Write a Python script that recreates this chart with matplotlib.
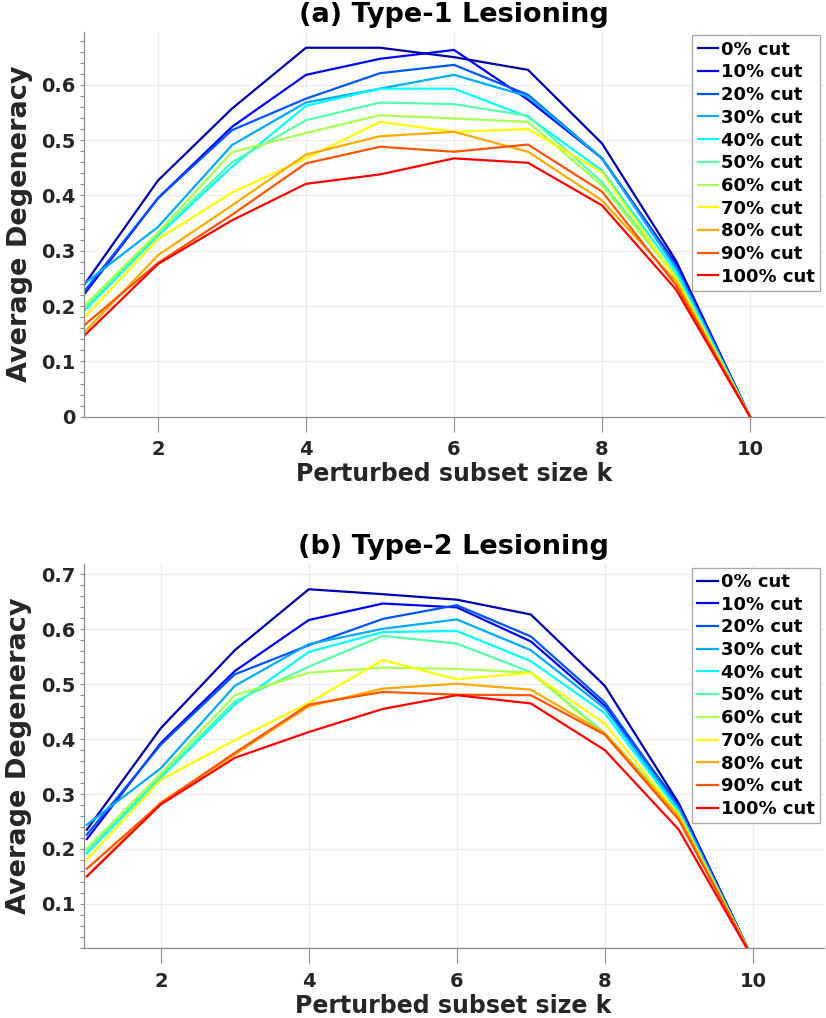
import numpy as np
import matplotlib
matplotlib.use('Agg')
import matplotlib.pyplot as plt
from matplotlib.ticker import MultipleLocator, FixedLocator

# =======  DATA  ======= #
k = np.arange(1, 11)
cut_labels = ['0% cut', '10% cut', '20% cut', '30% cut', '40% cut', '50% cut',
              '60% cut', '70% cut', '80% cut', '90% cut', '100% cut']

# (a) Type-1 lesioning, one row per cut level
type1 = [
    [0.238, 0.427, 0.557, 0.667, 0.667, 0.650, 0.627, 0.494, 0.282, 0.0],
    [0.221, 0.395, 0.524, 0.618, 0.647, 0.663, 0.573, 0.467, 0.276, 0.0],
    [0.226, 0.395, 0.518, 0.575, 0.621, 0.636, 0.582, 0.467, 0.272, 0.0],
    [0.240, 0.343, 0.491, 0.568, 0.593, 0.618, 0.579, 0.467, 0.268, 0.0],
    [0.191, 0.327, 0.452, 0.562, 0.593, 0.593, 0.542, 0.445, 0.262, 0.0],
    [0.195, 0.330, 0.460, 0.536, 0.568, 0.565, 0.544, 0.424, 0.255, 0.0],
    [0.200, 0.333, 0.478, 0.513, 0.545, 0.539, 0.533, 0.418, 0.252, 0.0],
    [0.179, 0.321, 0.405, 0.467, 0.533, 0.515, 0.520, 0.442, 0.250, 0.0],
    [0.152, 0.292, 0.382, 0.474, 0.507, 0.515, 0.479, 0.391, 0.245, 0.0],
    [0.165, 0.278, 0.365, 0.458, 0.488, 0.479, 0.492, 0.407, 0.238, 0.0],
    [0.146, 0.276, 0.355, 0.421, 0.438, 0.467, 0.459, 0.382, 0.230, 0.0],
]

# (b) Type-2 lesioning
type2 = [
    [0.235, 0.420, 0.562, 0.673, 0.664, 0.654, 0.627, 0.497, 0.283, 0.0],
    [0.218, 0.393, 0.524, 0.617, 0.647, 0.640, 0.578, 0.461, 0.280, 0.0],
    [0.226, 0.390, 0.518, 0.571, 0.619, 0.644, 0.587, 0.467, 0.277, 0.0],
    [0.244, 0.347, 0.497, 0.573, 0.601, 0.618, 0.562, 0.456, 0.272, 0.0],
    [0.192, 0.330, 0.463, 0.559, 0.595, 0.597, 0.542, 0.447, 0.268, 0.0],
    [0.198, 0.333, 0.469, 0.532, 0.588, 0.574, 0.522, 0.411, 0.265, 0.0],
    [0.201, 0.337, 0.480, 0.521, 0.530, 0.528, 0.521, 0.408, 0.263, 0.0],
    [0.181, 0.326, 0.398, 0.466, 0.544, 0.509, 0.521, 0.428, 0.262, 0.0],
    [0.150, 0.285, 0.372, 0.460, 0.492, 0.501, 0.490, 0.411, 0.259, 0.0],
    [0.164, 0.283, 0.375, 0.463, 0.486, 0.481, 0.480, 0.408, 0.253, 0.0],
    [0.150, 0.281, 0.366, 0.413, 0.455, 0.480, 0.465, 0.380, 0.235, 0.0],
]

# MATLAB jet(11)
jet11 = [(0, 0, 2/3), (0, 0, 1), (0, 1/3, 1), (0, 2/3, 1), (0, 1, 1),
         (1/3, 1, 2/3), (2/3, 1, 1/3), (1, 1, 0), (1, 2/3, 0), (1, 1/3, 0),
         (1, 0, 0)]

plt.rcParams['font.family'] = 'DejaVu Sans'
plt.rcParams['font.weight'] = 'bold'

AXCOL = '#8c8c8c'
TXTCOL = '#262626'


# =============================================================================
# One panel
# =============================================================================

def draw_panel(ax, data, title, xlim, ylim, yticks, ylabels):
    for i, vals in enumerate(data):
        ax.plot(k, vals, color=jet11[i], lw=1.6, label=cut_labels[i],
                solid_joinstyle='miter')
    ax.set_xlim(xlim)
    ax.set_ylim(ylim)

    ax.xaxis.set_major_locator(FixedLocator([2, 4, 6, 8, 10]))
    ax.set_yticks(yticks)
    ax.set_yticklabels(ylabels)
    ax.yaxis.set_minor_locator(MultipleLocator(0.02))

    ax.tick_params(axis='x', direction='out', length=11, width=0.8,
                   color=AXCOL, labelcolor=TXTCOL, labelsize=14, pad=6)
    ax.tick_params(axis='y', which='both', direction='out', length=3,
                   width=0.8, color=AXCOL, labelcolor=TXTCOL, labelsize=14,
                   pad=3)
    for lab in ax.get_xticklabels() + ax.get_yticklabels():
        lab.set_fontweight('bold')

    ax.grid(True, which='major', color='#ebebeb', lw=0.8)
    ax.set_axisbelow(True)
    for s in ['top', 'right']:
        ax.spines[s].set_visible(False)
    for s in ['left', 'bottom']:
        ax.spines[s].set_color(AXCOL)
        ax.spines[s].set_linewidth(0.9)

    ax.set_title(title, fontsize=19.5, fontweight='bold', pad=7)
    ax.set_xlabel('Perturbed subset size k', fontsize=17, fontweight='bold',
                  color=TXTCOL, labelpad=2)
    ax.set_ylabel('Average Degeneracy', fontsize=19.5, fontweight='bold',
                  color=TXTCOL, labelpad=6)

    leg = ax.legend(loc='upper right', fontsize=13, frameon=True,
                    fancybox=False, edgecolor='#a6a6a6', framealpha=1,
                    labelspacing=0.26, handlelength=1.15, handletextpad=0.15,
                    borderpad=0.3, borderaxespad=0.2)
    leg.get_frame().set_linewidth(0.9)
    for t in leg.get_texts():
        t.set_fontweight('bold')


fig = plt.figure(figsize=(8.26, 10.18), dpi=100)
ax1 = fig.add_axes([84 / 826, (1018 - 416.7) / 1018, 740 / 826, 385 / 1018])
ax2 = fig.add_axes([83.5 / 826, (1018 - 948.3) / 1018, 740 / 826, 384.3 / 1018])

draw_panel(ax1, type1, '(a) Type-1 Lesioning', (1, 11), (0, 0.696),
           np.arange(0, 0.65, 0.1), ['0', '0.1', '0.2', '0.3', '0.4', '0.5', '0.6'])
draw_panel(ax2, type2, '(b) Type-2 Lesioning', (0.955, 10.955), (0.019, 0.719),
           np.arange(0.1, 0.75, 0.1), ['0.1', '0.2', '0.3', '0.4', '0.5', '0.6', '0.7'])

fig.savefig('out.png', dpi=100)
